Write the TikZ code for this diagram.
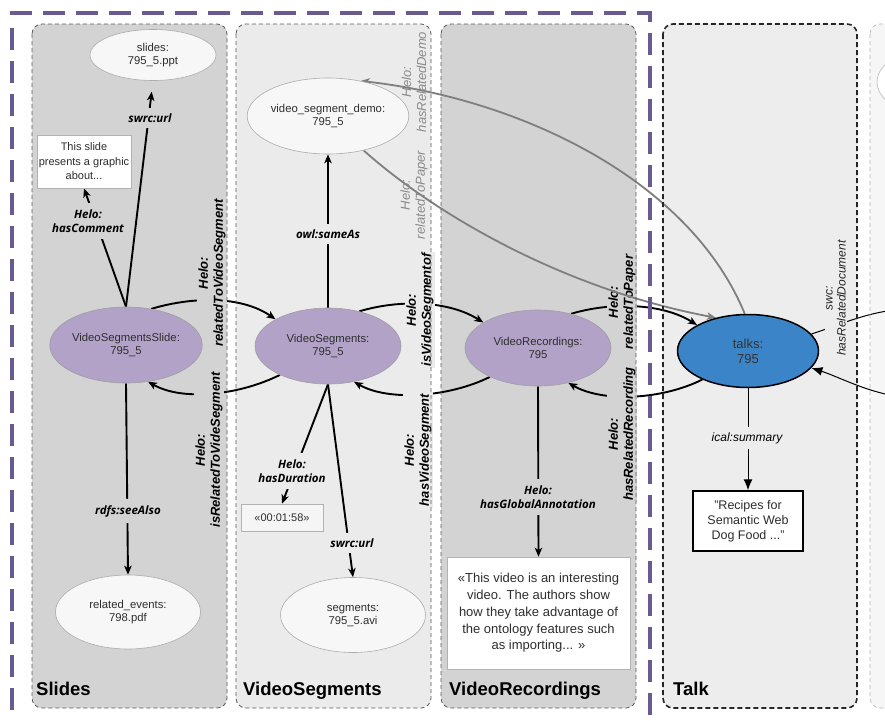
\documentclass[tikz,border=0pt]{standalone}
\usepackage{fontspec}
\setmainfont{Liberation Sans}
\newfontfamily\lblfont{Open Sans}
\usetikzlibrary{shapes.geometric,arrows.meta}
\pgfdeclarelayer{back}
\pgfdeclarelayer{mid}
\pgfdeclarelayer{front}
\pgfsetlayers{back,mid,main,front}
\definecolor{lanedark}{HTML}{D3D3D3}
\definecolor{lanelight}{HTML}{EBEBEB}
\definecolor{talkfill}{HTML}{EDEDED}
\definecolor{sidefill}{HTML}{F6F6F6}
\definecolor{purpfill}{HTML}{B2A2C8}
\definecolor{outerpurple}{HTML}{6A5A92}
\definecolor{talkblue}{HTML}{3C84C8}
\definecolor{grayedge}{HTML}{7F7F7F}
\definecolor{graylabel}{HTML}{8A8A8A}
\definecolor{laneborder}{HTML}{5A5A5A}
\definecolor{nodetext}{HTML}{2E2E2E}
\tikzset{
  lanebd/.style={draw=laneborder, line width=0.8pt, dash pattern=on 4pt off 3pt, rounded corners=10pt},
  ellbase/.style={ellipse, inner sep=0pt, align=center, text=nodetext, font=\fontsize{11.3}{13}\selectfont},
  whiteell/.style={ellbase, draw=gray!65, line width=0.6pt, fill=white!97!black},
  purpell/.style={ellbase, draw=gray!75, line width=0.6pt, fill=purpfill},
  litbox/.style={rectangle, draw=gray!60, line width=0.7pt, fill=white, align=center, text=nodetext, inner sep=0pt},
  blk/.style={draw=black, line width=1.9pt, -{Stealth[length=9pt,width=7.5pt,inset=2.5pt]}},
  gry/.style={draw=grayedge, line width=1.8pt, -{Stealth[length=9pt,width=7.5pt,inset=2.5pt]}},
  thinblk/.style={draw=black, line width=1pt},
  hlab/.style={font=\lblfont\bfseries\itshape\fontsize{11.5}{14.5}\selectfont, align=center, inner xsep=6pt, inner ysep=6pt},
  vlab/.style={rotate=90, font=\bfseries\itshape\fontsize{13}{15}\selectfont, align=center, inner sep=1.5pt},
  glab/.style={rotate=90, font=\itshape\fontsize{13}{15}\selectfont, align=center, inner sep=1pt, text=graylabel},
  lanetitle/.style={anchor=base west, font=\bfseries\fontsize{18.5}{20}\selectfont, inner sep=0pt},
}
\begin{document}
\begin{tikzpicture}[x=1pt,y=-1pt]
\useasboundingbox (0,0) rectangle (885,720);
\begin{pgfonlayer}{back}
\fill[white] (0,0) rectangle (885,720);
\fill[lanedark, rounded corners=10pt] (32,24) rectangle (227,708);
\fill[lanelight, rounded corners=10pt] (236,24) rectangle (431,708);
\fill[lanedark, rounded corners=10pt] (441,24) rectangle (636,708);
\fill[talkfill, rounded corners=10pt] (663,24) rectangle (857,708);
\fill[sidefill, rounded corners=10pt] (870,24) rectangle (960,708);
\end{pgfonlayer}

% nodes
\node[whiteell, minimum width=126pt, minimum height=51pt] (slides) at (153,55) {slides:\\795\_5.ppt};
\node[litbox, minimum width=94pt, minimum height=53pt, font=\fontsize{11}{14.5}\selectfont] (comment) at (84,161.5) {This slide\\presents a graphic\\about...};
\node[purpell, minimum width=145pt, minimum height=76pt] (vss) at (126,345) {VideoSegmentsSlide:\\795\_5};
\node[whiteell, minimum width=145pt, minimum height=74pt] (rel) at (128,612) {related\_events:\\798.pdf};
\node[whiteell, minimum width=145pt, minimum height=76pt] (vsd) at (328,116) {video\_segment\_demo:\\795\_5};
\node[purpell, minimum width=146pt, minimum height=76pt] (vs) at (328,346) {VideoSegments:\\795\_5};
\node[litbox, fill=white!96!black, minimum width=82pt, minimum height=27pt, font=\fontsize{11}{13}\selectfont] (dur) at (282,517.5) {«00:01:58»};
\node[whiteell, minimum width=145pt, minimum height=75pt] (seg) at (353,615) {segments:\\795\_5.avi};
\node[purpell, minimum width=146pt, minimum height=76pt] (vr) at (538,348) {VideoRecordings:\\795};
\node[litbox, minimum width=183pt, minimum height=112pt, font=\fontsize{13}{16.7}\selectfont] (annot) at (538.5,613) {«This video is an interesting\\video. The authors show\\how they take advantage of\\the ontology features such\\as importing... »};
\node[ellipse, draw=black, line width=1.5pt, fill=talkblue, minimum width=141pt, minimum height=73pt, inner sep=0pt, align=center, text=black!80, font=\fontsize{13}{15}\selectfont] (talks) at (748,351) {talks:\\795};
\node[rectangle, draw=black, line width=1.5pt, fill=white, minimum width=110pt, minimum height=60pt, inner sep=0pt, align=center, text=nodetext, font=\fontsize{12.5}{15}\selectfont] (recipes) at (748,521) {"Recipes for\\Semantic Web\\Dog Food ..."};
\node[ellipse, draw=gray!45, line width=0.8pt, fill=white, minimum width=146pt, minimum height=76pt] (side) at (950,82) {};
\coordinate (rtop) at (895,310);
\coordinate (rbot) at (895,396);

\begin{pgfonlayer}{mid}
% straight edges
\draw[blk, shorten >=11pt] (vss.north) -- (slides.south);
\draw[blk] (vss.north) -- (comment.south);
\draw[blk] (vss.south) -- (rel.north);
\draw[blk] (vs.north) -- (vsd.south);
\draw[blk] (vs.south) -- (dur.north);
\draw[blk] (vs.south) -- (seg.north);
\draw[blk] (vr.south) -- (annot.north);
\draw[thinblk, -{Latex[length=11pt,width=9pt]}] (talks.south) -- (recipes.north);

% arcs
\draw[blk] (vss.55) .. controls +(40,-12) and +(-35,-24) .. (vs.153);
\draw[blk] (vs.211) .. controls +(-40,20) and +(35,20) .. (vss.301);
\draw[blk] (vs.48) .. controls +(40,-12) and +(-35,-22) .. (vr.155);
\draw[blk] (vr.211) .. controls +(-40,20) and +(35,20) .. (vs.306);
\draw[blk] (vr.46) .. controls +(40,-12) and +(-35,-22) .. (talks.153);
\draw[blk] (talks.212) .. controls +(-40,20) and +(35,20) .. (vr.311);
\draw[thinblk] (rtop) .. controls +(-30,3) and +(25,-8) .. (talks.15);
\draw[thinblk, -{Latex[length=11pt,width=9pt]}] (rbot) .. controls +(-30,-5) and +(25,8) .. (talks.-15);

% edge labels
\node[hlab, fill=lanedark] (l1) at (150,118) {swrc:url};
\node[hlab, fill=lanedark] (l2) at (88,221) {Helo:\\hasComment};
\node[hlab, fill=lanedark] (l3) at (128,511) {rdfs:seeAlso};
\node[hlab, fill=lanelight] (l4) at (328,234) {owl:sameAs};
\node[hlab, fill=lanelight] (l5) at (292,471) {Helo:\\hasDuration};
\node[hlab, fill=lanelight] (l6) at (352,543) {swrc:url};
\node[hlab, fill=lanedark] (l7) at (538,497) {Helo:\\hasGlobalAnnotation};
\node[font=\itshape\fontsize{12}{14}\selectfont, fill=talkfill, inner xsep=4pt, inner ysep=5pt] (l8) at (747,438) {ical:summary};
\node[vlab, fill=lanedark] (v1) at (212,273) {Helo:\\relatedToVideoSegment};
\node[vlab, fill=lanedark] (v2) at (209,450) {Helo:\\isRelatedToVideSegment};
\node[vlab, fill=lanelight] (v3) at (420,310) {Helo:\\isVideoSegmentof};
\node[vlab, fill=lanelight] (v4) at (418,450) {Helo:\\hasVideoSegment};
\node[vlab, fill=lanedark] (v5) at (622,302) {Helo:\\relatedToPaper};
\node[vlab, fill=lanedark] (v6) at (622,434) {Helo:\\hasRelatedRecording};
\node[rotate=90, font=\itshape\fontsize{12}{13}\selectfont, align=center, inner sep=1pt, fill=talkfill, text=black!85] (v7) at (836,298) {swc:\\hasRelatedDocument};

% gray curves
\draw[gry] (talks.95) .. controls +(-55,-134) and +(160,18) .. (vsd.47);
\draw[gry] (vsd.316) .. controls +(67,60) and +(-158,-30) .. (talks.134);
\node[glab] (g1) at (414,82) {Helo:\\hasRelatedDemo};
\node[glab] (g2) at (414,195) {Helo:\\relatedToPaper};
\end{pgfonlayer}

\begin{pgfonlayer}{front}
% lane borders
\draw[lanebd] (32,24) rectangle (227,708);
\draw[lanebd] (236,24) rectangle (431,708);
\draw[lanebd] (441,24) rectangle (636,708);
\draw[draw=black!85, line width=1.6pt, dash pattern=on 5pt off 3pt, rounded corners=10pt] (663,24) rectangle (857,708);
\draw[draw=gray!60, line width=0.6pt, dash pattern=on 4pt off 3pt, rounded corners=10pt] (870,24) rectangle (960,708);

% outer purple frame
\draw[outerpurple, line width=3.2pt, dash pattern=on 22pt off 11pt] (10,13) -- (650,13) -- (650,725);
\draw[outerpurple, line width=3.2pt, dash pattern=on 22pt off 11pt] (12,28) -- (12,725);

% lane titles
\node[lanetitle] (t1) at (36,695) {Slides};
\node[lanetitle] (t2) at (243,695) {VideoSegments};
\node[lanetitle] (t3) at (449,695) {VideoRecordings};
\node[lanetitle] (t4) at (673,695) {Talk};
\end{pgfonlayer}
\end{tikzpicture}
\end{document}
